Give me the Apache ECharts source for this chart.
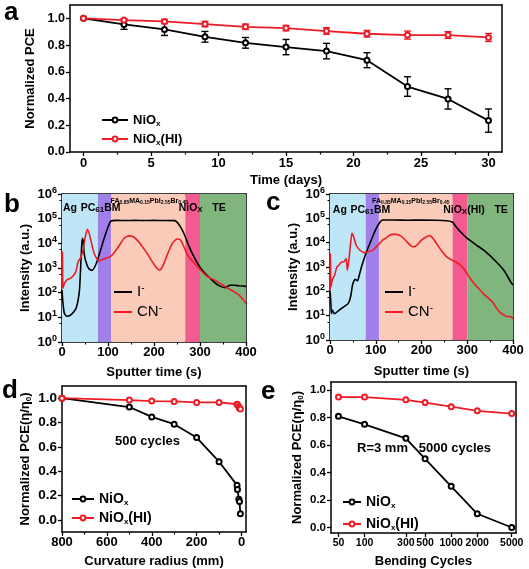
<!DOCTYPE html>
<html><head><meta charset="utf-8">
<script src="https://cdn.jsdelivr.net/npm/echarts@6/dist/echarts.min.js"></script>
<style>html,body{margin:0;padding:0;background:#fff}#c{width:529px;height:569px}</style>
</head><body><div id="c"></div>
<script>
// ---------- Panel a : stability ----------
const daysA = [0,3,6,9,12,15,18,21,24,27,30];
const aNiOx = [1.0,0.955,0.917,0.862,0.817,0.785,0.755,0.687,0.49,0.397,0.235];
const aNiOxErr = [0,0.037,0.045,0.04,0.04,0.057,0.058,0.056,0.073,0.076,0.087];
const aHI = [1.0,0.987,0.977,0.957,0.937,0.927,0.905,0.885,0.875,0.875,0.857];
const aHIErr = [0,0.01,0.015,0.02,0.02,0.02,0.025,0.025,0.03,0.025,0.03];
const aXTicks = [0,5,10,15,20,25,30];
const aXMinor = [2.5,7.5,12.5,17.5,22.5,27.5];
const aYTicks = [0,0.2,0.4,0.6,0.8,1.0];

// ---------- Panel b : ToF-SIMS NiOx ----------
const bITime = [0,2,5,10,20,30,35,38,40,42,44,46,48,52,58,65,75,85,95,105,110,120,140,160,180,200,220,245,255,265,275,285,295,305,315,325,335,345,355,365,375,385,400];
const bIVal = [130,40,15,11,13,22,50,126,630,4000,16000,13500,4000,1800,950,800,1600,6300,25000,76000,83000,85000,84000,85000,84000,85000,84000,83000,55000,25000,8500,3300,1500,810,510,340,230,180,160,200,200,190,180];
const bCNTime = [0,1,2,5,10,20,30,35,40,45,50,55,60,65,70,75,80,85,95,105,115,125,135,145,155,165,175,185,195,205,212,220,230,240,250,258,265,275,285,295,305,315,325,335,345,355,365,375,385,395,400];
const bCNVal = [170,4600,150,230,320,400,700,1800,2500,4600,16000,37000,22000,8500,3900,2500,1950,2100,2500,2900,4600,8500,16000,20000,18500,12600,7200,3900,1950,1050,810,1300,3900,10000,15000,13500,7200,2900,1800,1100,700,470,370,300,230,175,135,107,80,49,36];

// ---------- Panel c : ToF-SIMS NiOx(HI) ----------
const cITime = [0,2,3,5,10,20,30,40,45,50,55,60,65,70,80,90,100,110,115,140,170,200,230,255,268,275,285,300,320,340,360,380,395,400];
const cIVal = [110,30,12,17,12,17,23,32,60,210,310,270,540,1200,4300,12600,35000,72000,85000,85000,84000,85000,84000,80000,69000,46000,28000,15000,8000,4300,1900,740,245,180];
const cCNTime = [0,1,2,5,10,15,20,25,30,35,38,42,45,48,52,57,65,75,85,95,105,115,125,135,145,155,165,175,182,190,200,210,218,225,235,245,255,265,275,285,295,305,315,325,335,345,355,365,375,385,395,400];
const cCNVal = [110,3600,150,290,460,1000,1200,1600,1600,2200,740,2600,9300,24000,17000,8000,5000,3900,4300,5200,8000,12600,17000,22000,22000,18500,12600,8000,6800,8000,12600,17000,19500,15000,8000,4300,2600,2000,1600,1200,740,370,210,130,81,55,37,19,12,9.5,9,7.6];

// layer bands (sputter time, s)
const bandEdges = [0,78,107,268,300,400];
const bandNamesB = ['Ag','PC{s|61}BM','FA{t|0.85}MA{t|0.15}PbI{t|2.55}Br{t|0.45}','NiO{s|X}','TE'];
const bandNamesC = ['Ag','PC{s|61}BM','FA{t|0.85}MA{t|0.15}PbI{t|2.55}Br{t|0.45}','NiO{s|X}(HI)','TE'];

// ---------- Panel d : curvature radius ----------
const dRadius = [800,500,400,300,200,100,20,18,12,9,5];
const dNiOx = [1.0,0.927,0.846,0.786,0.676,0.478,0.285,0.25,0.17,0.15,0.05];
const dHI = [1.0,0.984,0.976,0.973,0.965,0.965,0.95,0.945,0.93,0.92,0.91];
const dXTicks = [0,200,400,600,800];
const dXMinor = [100,300,500,700];
const dYTicks = [0,0.2,0.4,0.6,0.8,1.0];

// ---------- Panel e : bending cycles ----------
const eCycles = [50,100,300,500,1000,2000,5000];
const eNiOx = [0.81,0.752,0.65,0.50,0.30,0.10,0.0];
const eHI = [0.95,0.95,0.93,0.91,0.88,0.85,0.83];
const eXTicks = [50,100,300,500,1000,2000,5000];
const eYTicks = [0,0.2,0.4,0.6,0.8,1.0];

// ---------- styles ----------
const F = '"Liberation Sans", Arial, sans-serif';
const BLACK = '#000000', RED = '#ee1c25';
const bandColors = ['#bfe6f6','#a07fe8','#f9cbb8','#f25a90','#80b57e'];

const subRich = {
  s:{fontSize:8, fontWeight:'bold', fontFamily:F, color:'#000', verticalAlign:'bottom', lineHeight:9},
  t:{fontSize:5, fontWeight:'bold', fontFamily:F, color:'#000', verticalAlign:'bottom', lineHeight:5},
  sup:{fontSize:9, fontWeight:'bold', fontFamily:F, color:'#000', verticalAlign:'top', lineHeight:9}
};

function mkX(grid, o){
  return Object.assign({
    gridIndex:grid, type:'value', position:'bottom',
    axisLine:{show:true, onZero:false, lineStyle:{color:'#000', width:1.5}},
    axisTick:{show:true, inside:false, length:4, lineStyle:{color:'#000', width:1.3}},
    axisLabel:{show:true, color:'#000', fontFamily:F, fontWeight:'bold', fontSize:13, margin:4},
    splitLine:{show:false},
    nameLocation:'middle',
    nameTextStyle:{color:'#000', fontFamily:F, fontWeight:'bold', fontSize:13}
  }, o);
}
function mkY(grid, o){
  return Object.assign({
    gridIndex:grid, type:'value', position:'left',
    axisLine:{show:true, onZero:false, lineStyle:{color:'#000', width:1.5}},
    axisTick:{show:true, inside:false, length:4, lineStyle:{color:'#000', width:1.3}},
    axisLabel:{show:true, color:'#000', fontFamily:F, fontWeight:'bold', fontSize:13, margin:5},
    splitLine:{show:false},
    nameLocation:'middle',
    nameTextStyle:{color:'#000', fontFamily:F, fontWeight:'bold', fontSize:13}
  }, o);
}
function frameX(grid){ return {gridIndex:grid, type:'value', position:'top', min:0, max:1,
  axisLine:{show:true, onZero:false, lineStyle:{color:'#000', width:1.5}}, axisTick:{show:false}, axisLabel:{show:false}, splitLine:{show:false}}; }
function frameY(grid){ return {gridIndex:grid, type:'value', position:'right', min:0, max:1,
  axisLine:{show:true, onZero:false, lineStyle:{color:'#000', width:1.5}}, axisTick:{show:false}, axisLabel:{show:false}, splitLine:{show:false}}; }
function minorX(grid, min, max, vals, inverse){ return {gridIndex:grid, type:'value', position:'bottom', min:min, max:max, inverse:!!inverse,
  axisLine:{show:false, onZero:false}, axisTick:{show:true, length:2.5, customValues:vals, lineStyle:{color:'#000', width:1.2}},
  axisLabel:{show:false}, splitLine:{show:false}}; }

const fmt1 = v => v.toFixed(1);
const fmtInt = v => String(Math.round(v));
const logFmt = v => '10{sup|' + Math.round(Math.log10(v)) + '}';

function pairs(xs, ys){ return xs.map((x,i)=>[x, ys[i]]); }
function errData(xs, ys, es){ return xs.map((x,i)=>[x, ys[i]-es[i], ys[i]+es[i]]); }
function errSeries(xs, ys, es, color){
  return {type:'custom', xAxisIndex:0, yAxisIndex:0, silent:true, z:3,
    data: errData(xs, ys, es), encode:{x:0, y:[1,2]},
    renderItem:function(params, api){
      const x = api.value(0);
      const lo = api.coord([x, api.value(1)]);
      const hi = api.coord([x, api.value(2)]);
      const w = 3.5;
      const st = {stroke:color, lineWidth:1.4};
      return {type:'group', children:[
        {type:'line', shape:{x1:lo[0], y1:lo[1], x2:hi[0], y2:hi[1]}, style:st},
        {type:'line', shape:{x1:lo[0]-w, y1:lo[1], x2:lo[0]+w, y2:lo[1]}, style:st},
        {type:'line', shape:{x1:hi[0]-w, y1:hi[1], x2:hi[0]+w, y2:hi[1]}, style:st}
      ]};
    }};
}
function pceLine(name, xi, yi, data, color, size){
  return {type:'line', name:name, xAxisIndex:xi, yAxisIndex:yi, data:data,
    symbol:'emptyCircle', symbolSize:size||5, showSymbol:true,
    lineStyle:{color:color, width:1.8}, itemStyle:{color:color, borderColor:color, borderWidth:1.3},
    z:4, animation:false};
}
function bandMarkArea(names, labelStyles){
  return {silent:true,
    data: names.map((n,i)=>[
      {xAxis:bandEdges[i], itemStyle:{color:bandColors[i], opacity:1},
       label:Object.assign({show:true, formatter:n, color:'#000', fontFamily:F, fontWeight:'bold', fontSize:10.5, rich:subRich}, labelStyles[i])},
      {xAxis:bandEdges[i+1]}
    ])};
}
function spec(name, xi, yi, xs, ys, color, extra){
  return Object.assign({type:'line', name:name, xAxisIndex:xi, yAxisIndex:yi, data:pairs(xs, ys),
    showSymbol:false, symbol:'none', smooth:0.2, lineStyle:{color:color, width:1.6}, itemStyle:{color:color}, z:4, animation:false}, extra||{});
}

const legText = {color:'#000', fontFamily:F, fontWeight:'bold', fontSize:13, lineHeight:16, rich:subRich};
const pceLegendFmt = n => n==='NiOx' ? 'NiO{s|x}' : 'NiO{s|x}(HI)';
const ionLegendFmt = n => n==='I-' ? 'I{sup|-}' : 'CN{sup|-}';
const ionRich = {sup:{fontSize:10, fontFamily:F, color:'#000', verticalAlign:'top', lineHeight:8}};

const bLabels = [
  {position:'insideTop', distance:9, offset:[-10,0]},
  {position:'insideTop', distance:9, offset:[-4,0]},
  {position:'insideTop', distance:4, fontSize:7, offset:[1,0]},
  {position:'insideTop', distance:9, offset:[-2,0]},
  {position:'insideTop', distance:9, offset:[-4,0]}
];
const cLabels = [
  {position:'insideTop', distance:11, offset:[-8,0]},
  {position:'insideTop', distance:11, offset:[-2,0]},
  {position:'insideTop', distance:4, fontSize:7, offset:[-5,0]},
  {position:'insideTop', distance:11, offset:[4,0]},
  {position:'insideTop', distance:11, offset:[11,0]}
];

const option = {
  animation:false,
  backgroundColor:'#ffffff',
  grid:[
    {left:70, top:5, width:432, height:147},
    {left:62, top:194, width:184, height:148},
    {left:330, top:194, width:183, height:146},
    {left:62, top:386, width:184, height:146},
    {left:331, top:382, width:185, height:151}
  ],
  xAxis:[
    mkX(0,{min:-1, max:31, name:'Time (days)', nameGap:22,
      axisLabel:{color:'#000', fontFamily:F, fontWeight:'bold', fontSize:13, margin:5, customValues:aXTicks},
      axisTick:{show:true, length:4, customValues:aXTicks, lineStyle:{color:'#000', width:1.3}}}),
    minorX(0, -1, 31, aXMinor),
    frameX(0),
    mkX(1,{min:0, max:400, interval:100, name:'Sputter time (s)', nameGap:24, minorTick:{show:true, splitNumber:2, length:2.5, lineStyle:{color:'#000'}}}),
    frameX(1),
    mkX(2,{min:0, max:400, interval:100, name:'Sputter time (s)', nameGap:25, minorTick:{show:true, splitNumber:2, length:2.5, lineStyle:{color:'#000'}}}),
    frameX(2),
    mkX(3,{min:-20, max:800, inverse:true, name:'Curvature radius (mm)', nameGap:23,
      axisLabel:{color:'#000', fontFamily:F, fontWeight:'bold', fontSize:13, margin:4, customValues:dXTicks},
      axisTick:{show:true, length:4, customValues:dXTicks, lineStyle:{color:'#000', width:1.3}}}),
    minorX(3, -20, 800, dXMinor, true),
    frameX(3),
    mkX(4,{type:'log', min:41, max:5600, name:'Bending Cycles', nameGap:22,
      axisLabel:{color:'#000', fontFamily:F, fontWeight:'bold', fontSize:10.5, margin:5, customValues:eXTicks, formatter:fmtInt},
      axisTick:{show:true, length:4, customValues:eXTicks, lineStyle:{color:'#000', width:1.3}},
      minorTick:{show:false}}),
    frameX(4)
  ],
  yAxis:[
    mkY(0,{min:0, max:1.1, name:'Normalized PCE', nameGap:33,
      axisLabel:{color:'#000', fontFamily:F, fontWeight:'bold', fontSize:12.5, margin:5, customValues:aYTicks, formatter:fmt1},
      axisTick:{show:true, length:4, customValues:aYTicks, lineStyle:{color:'#000', width:1.3}}}),
    frameY(0),
    mkY(1,{type:'log', min:1, max:1e6, logBase:10, name:'Intensity (a.u.)', nameGap:30,
      axisLabel:{color:'#000', fontFamily:F, fontWeight:'bold', fontSize:13, margin:5, formatter:logFmt, rich:subRich, lineHeight:16},
      minorTick:{show:true, splitNumber:2, length:2.5, lineStyle:{color:'#000'}}}),
    frameY(1),
    mkY(2,{type:'log', min:1, max:1e6, logBase:10, name:'Intensity (a.u.)', nameGap:30,
      axisLabel:{color:'#000', fontFamily:F, fontWeight:'bold', fontSize:13, margin:5, formatter:logFmt, rich:subRich, lineHeight:16},
      minorTick:{show:true, splitNumber:2, length:2.5, lineStyle:{color:'#000'}}}),
    frameY(2),
    mkY(3,{min:-0.1, max:1.1, name:'Normalized PCE(η/η{s|0})', nameGap:29,
      nameTextStyle:{color:'#000', fontFamily:F, fontWeight:'bold', fontSize:13, lineHeight:16, rich:subRich},
      axisLabel:{color:'#000', fontFamily:F, fontWeight:'bold', fontSize:13.5, margin:5, customValues:dYTicks, formatter:fmt1},
      axisTick:{show:true, length:4, customValues:dYTicks, lineStyle:{color:'#000', width:1.3}}}),
    frameY(3),
    mkY(4,{min:-0.04, max:1.06, name:'Normalized PCE(η/η{s|0})', nameGap:26,
      nameTextStyle:{color:'#000', fontFamily:F, fontWeight:'bold', fontSize:13, lineHeight:16, rich:subRich},
      axisLabel:{color:'#000', fontFamily:F, fontWeight:'bold', fontSize:11.5, margin:5, customValues:eYTicks, formatter:fmt1},
      axisTick:{show:true, length:4, customValues:eYTicks, lineStyle:{color:'#000', width:1.3}}}),
    frameY(4)
  ],
  legend:[
    {left:96, top:107, orient:'vertical', itemWidth:26, itemHeight:6, itemGap:3, data:['NiOx','NiOx(HI)'], formatter:pceLegendFmt, textStyle:legText, selectedMode:false},
    {left:108, top:278, orient:'vertical', itemWidth:18, itemHeight:10, itemGap:2, data:['I-','CN-'], formatter:ionLegendFmt,
      itemStyle:{opacity:0}, textStyle:{color:'#000', fontFamily:F, fontSize:15, lineHeight:18, rich:ionRich}, selectedMode:false},
    {left:379, top:278, orient:'vertical', itemWidth:18, itemHeight:10, itemGap:2, data:['I-','CN-'], formatter:ionLegendFmt,
      itemStyle:{opacity:0}, textStyle:{color:'#000', fontFamily:F, fontSize:15, lineHeight:18, rich:ionRich}, selectedMode:false},
    {left:66, top:486, orient:'vertical', itemWidth:22, itemHeight:6, itemGap:3, data:['NiOx','NiOx(HI)'], formatter:pceLegendFmt,
      textStyle:Object.assign({}, legText, {fontSize:14}), selectedMode:false},
    {left:337, top:489, orient:'vertical', itemWidth:18, itemHeight:6, itemGap:6, data:['NiOx','NiOx(HI)'], formatter:pceLegendFmt,
      textStyle:Object.assign({}, legText, {fontSize:14}), selectedMode:false}
  ],
  graphic:[
    {type:'text', left:4, top:0, style:{text:'a', font:'bold 26px '+F, fill:'#000'}},
    {type:'text', left:4, top:192, style:{text:'b', font:'bold 26px '+F, fill:'#000'}},
    {type:'text', left:266, top:190, style:{text:'c', font:'bold 26px '+F, fill:'#000'}},
    {type:'text', left:2, top:378, style:{text:'d', font:'bold 26px '+F, fill:'#000'}},
    {type:'text', left:261, top:379, style:{text:'e', font:'bold 26px '+F, fill:'#000'}},
    {type:'text', left:115, top:435, style:{text:'500 cycles', font:'bold 13px '+F, fill:'#000'}},
    {type:'text', left:357, top:442, style:{text:'R=3 mm   5000 cycles', font:'bold 13px '+F, fill:'#000'}}
  ],
  series:[
    errSeries(daysA, aNiOx, aNiOxErr, BLACK),
    errSeries(daysA, aHI, aHIErr, RED),
    pceLine('NiOx', 0, 0, pairs(daysA, aNiOx), BLACK, 5),
    pceLine('NiOx(HI)', 0, 0, pairs(daysA, aHI), RED, 5),

    spec('I-', 3, 2, bITime, bIVal, BLACK, {markArea:bandMarkArea(bandNamesB, bLabels)}),
    spec('CN-', 3, 2, bCNTime, bCNVal, RED),

    spec('I-', 5, 4, cITime, cIVal, BLACK, {markArea:bandMarkArea(bandNamesC, cLabels)}),
    spec('CN-', 5, 4, cCNTime, cCNVal, RED),

    pceLine('NiOx', 7, 6, pairs(dRadius, dNiOx), BLACK, 5),
    pceLine('NiOx(HI)', 7, 6, pairs(dRadius, dHI), RED, 5),

    pceLine('NiOx', 10, 8, pairs(eCycles, eNiOx), BLACK, 5),
    pceLine('NiOx(HI)', 10, 8, pairs(eCycles, eHI), RED, 5)
  ]
};
const chart = echarts.init(document.getElementById('c'));
chart.setOption(option);
</script></body></html>
